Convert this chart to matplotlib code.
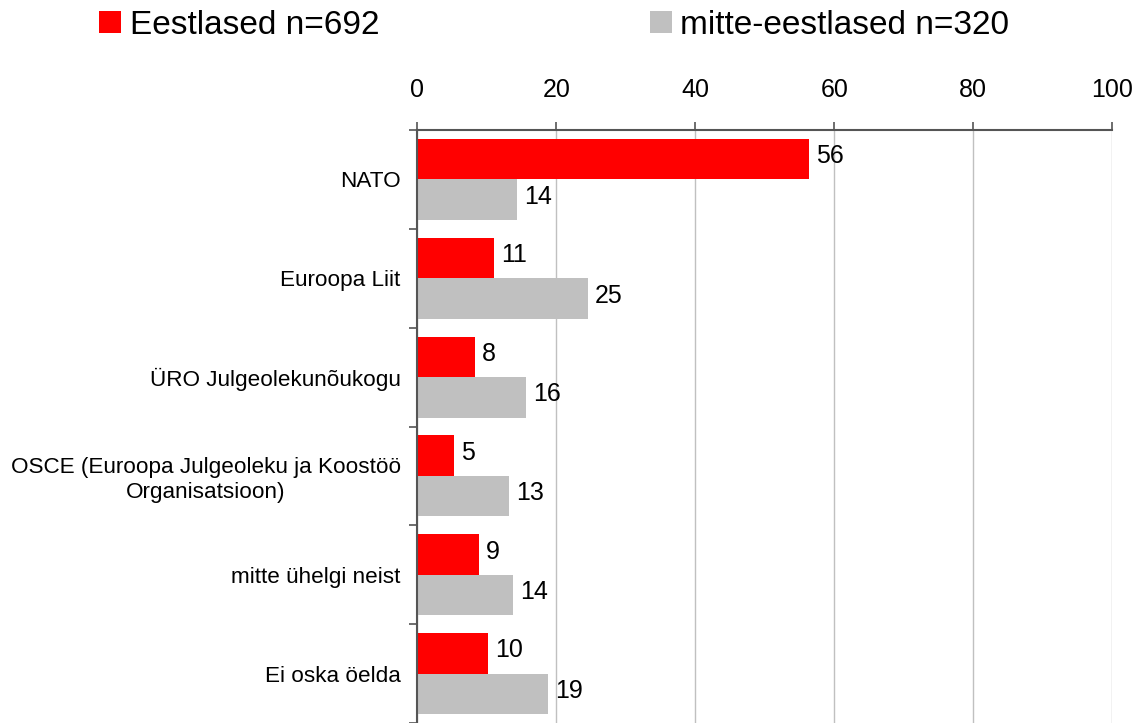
import matplotlib
matplotlib.use("Agg")
from matplotlib import pyplot as plt
from matplotlib.patches import Patch
import numpy as np

plt.rcParams['font.family'] = ['Liberation Sans', 'DejaVu Sans']

categories = ["NATO", "Euroopa Liit", "ÜRO Julgeolekunõukogu",
              "OSCE (Euroopa Julgeoleku ja Koostöö\nOrganisatsioon)",
              "mitte ühelgi neist", "Ei oska öelda"]
eestlased = [56.4, 11.1, 8.3, 5.3, 8.9, 10.2]
mitte_eestlased = [14.4, 24.6, 15.7, 13.2, 13.8, 18.8]
series_names = ["Eestlased n=692", "mitte-eestlased n=320"]
colors = ["#ff0000", "#c0c0c0"]

fig = plt.figure(figsize=(11.47, 7.23), dpi=100)
ax = fig.add_axes([417.3 / 1147, 0.0, (1112.3 - 417.3) / 1147, 1 - 130 / 723])

y = np.arange(len(categories))
h = 0.41
b1 = ax.barh(y - h / 2, eestlased, height=h, color=colors[0], zorder=2)
b2 = ax.barh(y + h / 2, mitte_eestlased, height=h, color=colors[1], zorder=2)

for bars, vals in [(b1, eestlased), (b2, mitte_eestlased)]:
    for bar, v in zip(bars, vals):
        ax.text(v + 1.0, bar.get_y() + bar.get_height() / 2 - 0.03, f"{round(v)}",
                va="center", ha="left", fontsize=18, color="black")

ax.set_xlim(0, 100)
ax.set_ylim(len(categories) - 0.5, -0.5)
ax.xaxis.tick_top()
ax.set_xticks(range(0, 101, 20))
ax.tick_params(axis="x", which="major", length=6, width=1.2, color="#555555",
               labelsize=18, pad=14)
ax.set_yticks(y)
ax.set_yticklabels(categories, fontsize=16.2, multialignment="center")
ax.set_yticks(np.arange(-0.5, len(categories), 1.0), minor=True)
ax.tick_params(axis="y", which="major", length=0, pad=12)
ax.tick_params(axis="y", which="minor", length=6, width=1.2, color="#555555")

ax.grid(axis="x", color="#c0c0c0", linewidth=1.0, zorder=0)
ax.set_axisbelow(True)
for s in ["right", "bottom"]:
    ax.spines[s].set_visible(False)
for s in ["top", "left"]:
    ax.spines[s].set_color("#555555")
    ax.spines[s].set_linewidth(1.5)

handles = [Patch(facecolor=c, edgecolor="none") for c in colors]
fig.legend(handles, series_names, loc="upper left", bbox_to_anchor=(99 / 1147, 1 - 10 / 723),
           ncol=2, frameon=False, fontsize=24, handlelength=0.66, handleheight=0.64,
           handletextpad=0.27, columnspacing=8.1, borderpad=0, borderaxespad=0)

fig.savefig("out.png", dpi=100)
